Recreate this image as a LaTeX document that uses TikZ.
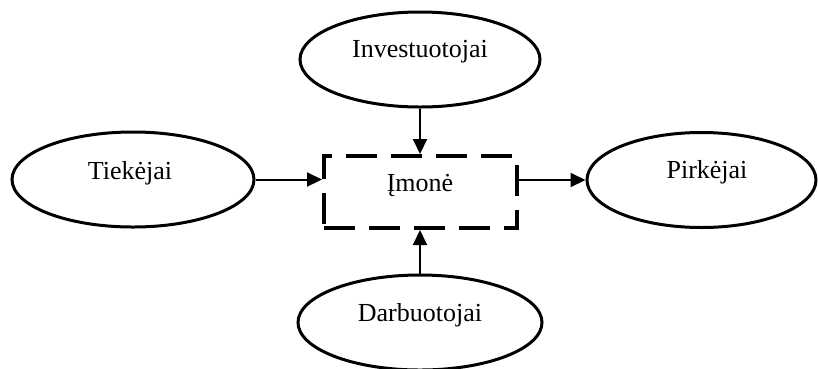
\documentclass[tikz,border=0pt]{standalone}
\usepackage{fontspec}
\setmainfont{Liberation Serif}
\usetikzlibrary{arrows.meta,shapes.geometric}
\begin{document}
\begin{tikzpicture}[x=1pt,y=-1pt,
  party/.style={draw,line width=3pt,ellipse,inner sep=0pt,
    minimum width=#1,minimum height=95pt},
  party/.default=240pt,
  firm/.style={draw,line width=4pt,dash pattern=on 31pt off 14pt,
    minimum width=193pt,minimum height=72pt,inner sep=0pt},
  label/.style={font=\fontsize{26}{30}\selectfont,inner sep=0pt},
  link/.style={line width=2pt,-{Triangle[length=15pt,width=14pt]}}]
\useasboundingbox (0,0) rectangle (818,368);
% stakeholder ellipses
\node[party]      (inv) at (420,59.5)  {};
\node[party=242pt](tie) at (133,179.5) {};
\node[party=229pt](pir) at (701.5,180) {};
\node[party=244pt](dar) at (420,322.5) {};
% the firm
\node[firm] (imo) at (420.5,192) {};
% texts
\node[label] (tinv) at (420,52)  {Investuotojai};
\node[label] (ttie) at (130,173) {Tiekėjai};
\node[label] (tpir) at (707,172) {Pirkėjai};
\node[label] (tdar) at (420,315) {Darbuotojai};
\node[label] (timo) at (420,185) {Įmonė};
% flows
\draw[link] (tie.east) -- (imo.west |- tie.east);
\draw[link] (imo.east |- pir.west) -- (pir.west);
\draw[link] (inv.south) -- (imo.north -| inv.south);
\draw[link] (dar.north) -- (imo.south -| dar.north);
\end{tikzpicture}
\end{document}
